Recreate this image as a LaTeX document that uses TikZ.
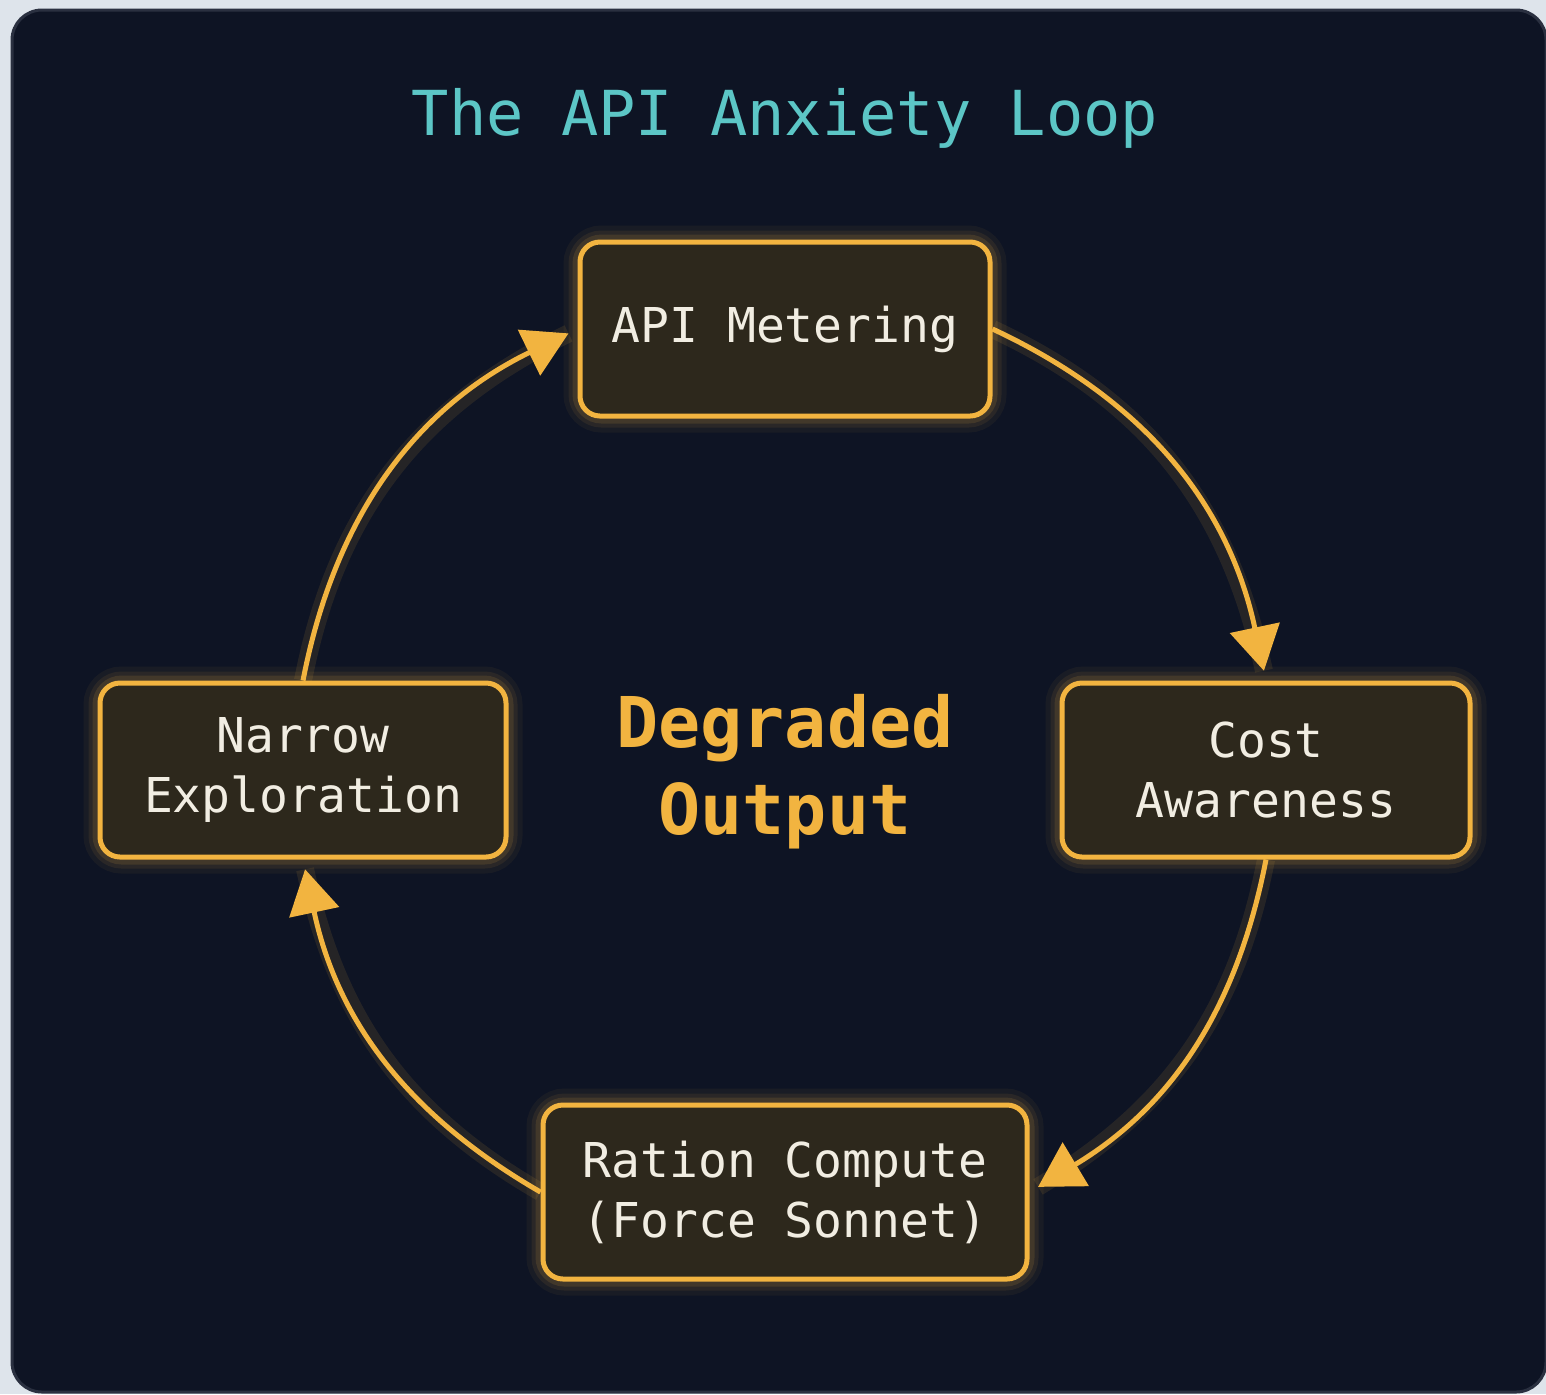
\documentclass[tikz,border=0pt]{standalone}
\usepackage{fontspec}
\setmainfont{DejaVu Sans Mono}
\usetikzlibrary{arrows.meta}
\definecolor{outerbg}{HTML}{DEE4EB}
\definecolor{panel}{HTML}{0E1424}
\definecolor{paneledge}{HTML}{2A3040}
\definecolor{boxfill}{HTML}{2D281C}
\definecolor{gold}{HTML}{F2B440}
\definecolor{boxtext}{HTML}{F1EDE2}
\definecolor{teal}{HTML}{5CC6C6}
\pgfdeclarelayer{bg}
\pgfdeclarelayer{glowlayer}
\pgfsetlayers{bg,glowlayer,main}
\tikzset{
  stepbox/.style={draw=gold, fill=boxfill, line width=2.5pt, rounded corners=10pt,
    minimum height=87pt, align=center, text=boxtext,
    font=\fontsize{24}{30}\selectfont},
  glowline/.style={draw=gold, rounded corners=12pt},
  arr/.style={draw=gold, line width=2.5pt, -{Triangle[length=22pt,width=25pt]},
    shorten >=5pt,
    preaction={draw=gold, line width=9pt, draw opacity=0.10, arrows=-, shorten >=5pt}},
}
\begin{document}
\begin{tikzpicture}[x=0.5pt,y=0.5pt]
\useasboundingbox (0,0) rectangle (1546,-1394);
\begin{pgfonlayer}{bg}
  \fill[outerbg] (0,0) rectangle (1546,-1394);
  \fill[panel, draw=paneledge, line width=1.5pt, rounded corners=15pt] (12,-10) rectangle (1546,-1392);
\end{pgfonlayer}

\node[text=teal, font=\fontsize{31}{36}\selectfont] (title) at (785,-118) {The API Anxiety Loop};

\node[stepbox, minimum width=205pt] (api) at (785,-329) {API Metering};
\node[stepbox, minimum width=204pt] (cost) at (1266,-770) {Cost\\Awareness};
\node[stepbox, minimum width=242pt] (ration) at (785,-1192) {Ration Compute\\(Force Sonnet)};
\node[stepbox, minimum width=203pt] (narrow) at (303,-770) {Narrow\\Exploration};

\node[text=gold, align=center, font=\bfseries\fontsize{35}{43.5}\selectfont] (deg) at (785,-772) {Degraded\\Output};

\begin{pgfonlayer}{glowlayer}
  \foreach \n in {api,cost,ration,narrow}{
    \draw[glowline, line width=14pt, draw opacity=0.05] (\n.south west) rectangle (\n.north east);
    \draw[glowline, line width=9pt, draw opacity=0.08] (\n.south west) rectangle (\n.north east);
    \draw[glowline, line width=5pt, draw opacity=0.12] (\n.south west) rectangle (\n.north east);
  }
\end{pgfonlayer}

\draw[arr] (api.east) to[out=-25, in=102] (cost.north);
\draw[arr] (cost.south) to[out=-101, in=31] (ration.east);
\draw[arr] (ration.west) to[out=150, in=-78] (narrow.south);
\draw[arr] (narrow.north) to[out=79, in=-154] (api.west);
\end{tikzpicture}
\end{document}
